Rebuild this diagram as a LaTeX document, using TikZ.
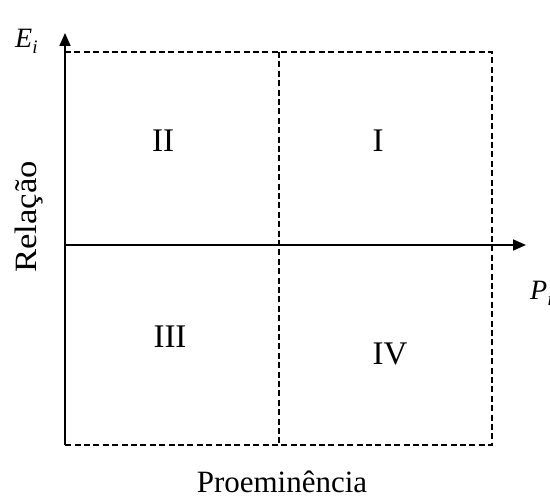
\documentclass[tikz,border=0pt]{standalone}
\usepackage{fontspec}
\setmainfont{Liberation Serif}
\usetikzlibrary{arrows.meta}
\begin{document}
\begin{tikzpicture}[x=1pt,y=-1pt,
  axis/.style={line width=1.6pt,-{Triangle[length=13pt,width=11pt]}},
  gridline/.style={line width=1.3pt,dash pattern=on 6pt off 3.4pt},
  quad/.style={anchor=base,inner sep=0pt,font=\fontsize{33}{36}\selectfont},
  lbl/.style={anchor=base,inner sep=0pt,font=\fontsize{31}{34}\selectfont},
  var/.style={anchor=base west,inner sep=0pt,font=\fontsize{28}{30}\selectfont\itshape}]
\useasboundingbox (0,0) rectangle (550,500);
% corners of the quadrant frame
\coordinate (O)  at (65,445);
\coordinate (TL) at (65,52);
\coordinate (TR) at (492,52);
\coordinate (BR) at (492,445);
\coordinate (MT) at (279,52);
\coordinate (MB) at (279,445);
\coordinate (Y)  at (65,33);
\coordinate (XL) at (65,245);
\coordinate (X)  at (526,245);
% dashed frame and middle divider
\draw[gridline] (TL) -- (TR) -- (BR) -- (O);
\draw[gridline] (MT) -- (MB);
% axes
\draw[axis] (O) -- (Y);
\draw[axis] (XL) -- (X);
% quadrant labels
\node[quad] (q2) at (163,152) {II};
\node[quad] (q1) at (378,152) {I};
\node[quad] (q3) at (170,348) {III};
\node[quad] (q4) at (390,365) {IV};
% axis titles
\node[lbl] (px) at (282,493) {Proeminência};
\node[lbl,rotate=90] (py) at (37,217) {\scalebox{1.12}[1]{Relação}};
\node[var] (ei) at (15,48) {E\raisebox{-6pt}{\fontsize{19}{19}\selectfont i}};
\node[var] (pi) at (530,300) {P\raisebox{-6pt}{\fontsize{19}{19}\selectfont i}};
\end{tikzpicture}
\end{document}
